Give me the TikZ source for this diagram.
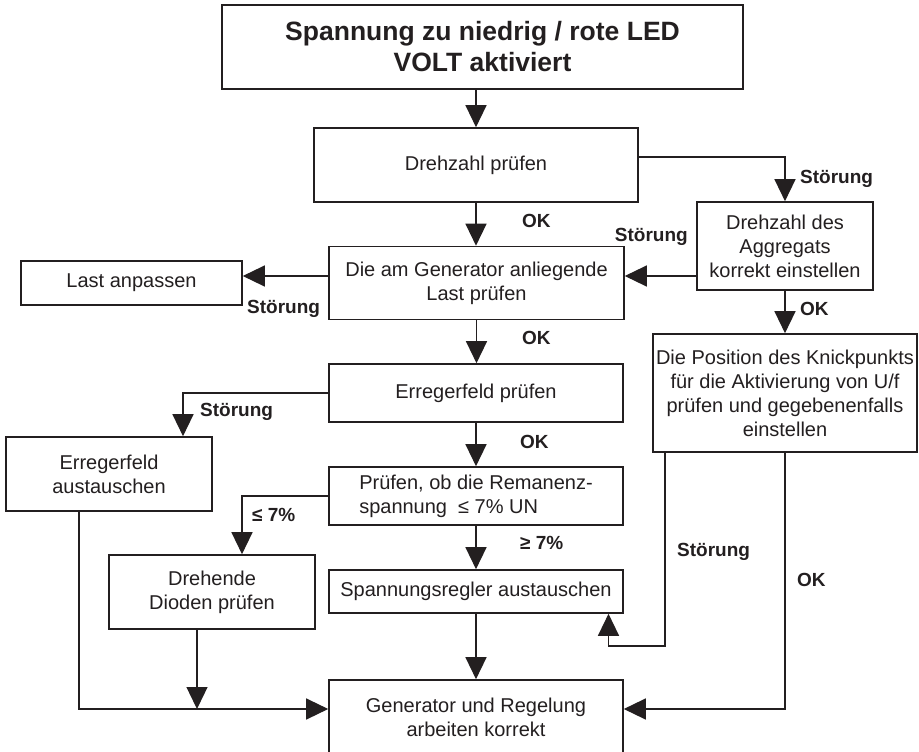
\documentclass[tikz,border=0pt]{standalone}
\usepackage{fontspec}
\setmainfont{Liberation Sans}
\usetikzlibrary{arrows.meta}
\definecolor{ink}{RGB}{35,31,32}
\begin{document}
\begin{tikzpicture}[x=1pt,y=-1pt,
  box/.style={draw=ink, line width=1.6pt, fill=white, text=ink, align=center,
    inner sep=0pt, font=\fontsize{20}{24}\selectfont},
  titlebox/.style={box, line width=2.6pt, font=\fontsize{26.5}{31}\selectfont\bfseries},
  conn/.style={draw=ink, line width=1.3pt, -{Triangle[length=22pt,width=21pt]}},
  lbl/.style={text=ink, inner sep=0pt, font=\fontsize{19}{22}\selectfont\bfseries},
]
\useasboundingbox (0,0) rectangle (919,752);
\clip (0,0) rectangle (919,752);

% boxes
\node[titlebox, minimum width=521pt, minimum height=84pt] (start) at (482.5,47)
  {Spannung zu niedrig / rote LED\\VOLT aktiviert};
\node[box, minimum width=324pt, minimum height=74pt] (drehzahl) at (476,165) {Drehzahl prüfen};
\node[box, minimum width=176pt, minimum height=88pt] (aggregat) at (785,246)
  {Drehzahl des\\Aggregats\\korrekt einstellen};
\node[box, minimum width=295pt, minimum height=73pt] (last) at (476.5,283)
  {Die am Generator anliegende\\Last prüfen};
\node[box, minimum width=221pt, minimum height=44pt] (anpassen) at (131.5,283) {Last anpassen};
\node[box, minimum width=264pt, minimum height=118pt] (position) at (785,393)
  {Die Position des Knickpunkts\\für die Aktivierung von U/f\\prüfen und gegebenenfalls\\einstellen};
\node[box, minimum width=294pt, minimum height=58pt] (erreger) at (476,393) {Erregerfeld prüfen};
\node[box, minimum width=206pt, minimum height=74pt] (erraus) at (109,474) {Erregerfeld\\austauschen};
\node[box, align=left, minimum width=294pt, minimum height=58pt] (remanenz) at (476,496)
  {Prüfen, ob die Remanenz-\\spannung \ ≤ 7\% UN};
\node[box, minimum width=206pt, minimum height=74pt] (dioden) at (212,592) {Drehende\\Dioden prüfen};
\node[box, minimum width=294pt, minimum height=43pt] (regler) at (476,591.5) {Spannungsregler austauschen};
\node[box, minimum width=294pt, minimum height=74pt] (generator) at (476,717)
  {Generator und Regelung\\arbeiten korrekt};

% bend and branch points
\coordinate (d1) at ([yshift=8pt]drehzahl.east);
\coordinate (a1) at ([yshift=-30pt]aggregat.west);
\coordinate (l1) at ([yshift=7pt]last.west);
\coordinate (e1) at ([xshift=74pt]erraus.north);
\coordinate (r1) at ([xshift=30pt]dioden.north);
\coordinate (p1) at ([xshift=-120pt]position.south);
\coordinate (k1) at (608.5,646);
\coordinate (g1) at ([xshift=132.5pt]regler.south);
\coordinate (g2) at ([yshift=8pt]generator.east);
\coordinate (g3) at ([yshift=8pt]generator.west);
\coordinate (x1) at ([xshift=-30pt]erraus.south);
\coordinate (x2) at ([xshift=-15pt]dioden.south);

% connectors
\draw[conn] (drehzahl.north |- start.south) -- (drehzahl.north);
\draw[conn] (drehzahl.south) -- (drehzahl.south |- last.north);
\draw[conn] (d1) -| (aggregat.north);
\draw[conn] (a1) -- (a1 -| last.east);
\draw[conn] (l1) -- (l1 -| anpassen.east);
\draw[conn] (last.south) -- (last.south |- erreger.north);
\draw[conn] (aggregat.south) -- (position.north);
\draw[conn] (erreger.west) -| (e1);
\draw[conn] (erreger.south) -- (erreger.south |- remanenz.north);
\draw[conn] (remanenz.west) -| (r1);
\draw[conn] (remanenz.south) -- (remanenz.south |- regler.north);
\draw[conn] (p1) |- (k1) -- (g1);
\draw[conn] (position.south) |- (g2);
\draw[conn] (regler.south) -- (regler.south |- generator.north);
\draw[conn] (x1) |- (g3);
\draw[conn] (x2) -- (x2 |- g3);

% branch labels
\node[lbl, anchor=west] (t1) at (800,179) {Störung};
\node[lbl, anchor=west] (t2) at (522,221) {OK};
\node[lbl, anchor=east] (t3) at (688,237) {Störung};
\node[lbl, anchor=west] (t4) at (247,309) {Störung};
\node[lbl, anchor=west] (t5) at (522,338) {OK};
\node[lbl, anchor=west] (t6) at (800,309) {OK};
\node[lbl, anchor=west] (t7) at (200,412) {Störung};
\node[lbl, anchor=west] (t8) at (520,442) {OK};
\node[lbl, anchor=west] (t9) at (252,515) {≤ 7\%};
\node[lbl, anchor=west] (t10) at (520,543) {≥ 7\%};
\node[lbl, anchor=west] (t11) at (677,552) {Störung};
\node[lbl, anchor=west] (t12) at (797,580) {OK};
\end{tikzpicture}
\end{document}
